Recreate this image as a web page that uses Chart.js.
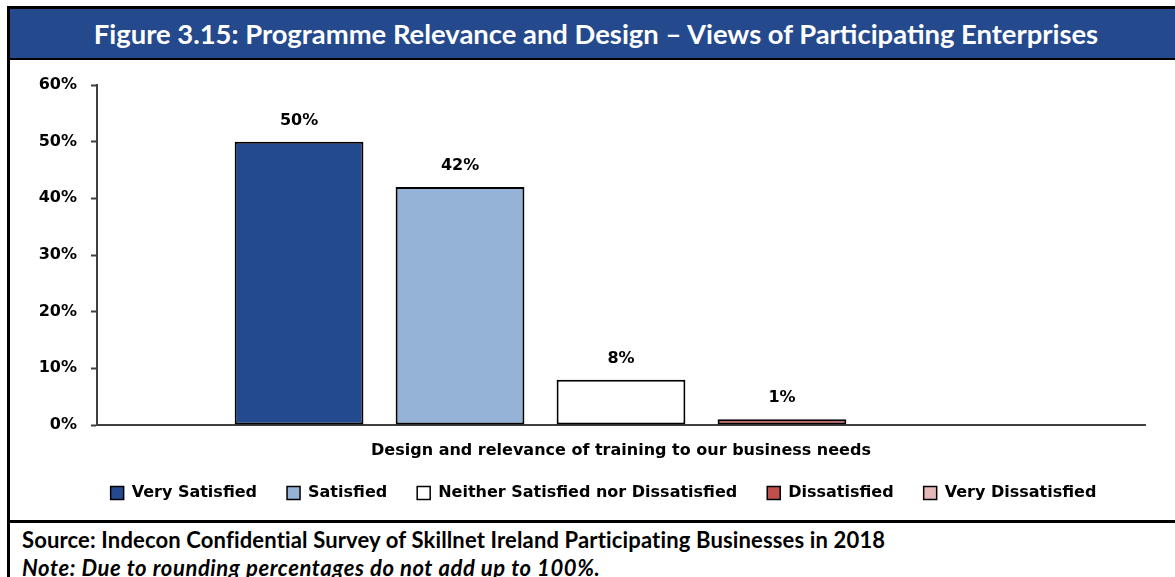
<!DOCTYPE html>
<html>
<head>
<meta charset="utf-8">
<script src="https://cdn.jsdelivr.net/npm/chart.js@4.4.1/dist/chart.umd.min.js"></script>
<style>
  html, body { margin: 0; padding: 0; background: #fff; }
  body { width: 1175px; height: 577px; position: relative; overflow: hidden; }
  .frame { position: absolute; left: 7px; top: 6px; width: 1168px; height: 571px;
           border-left: 3px solid #000; border-top: 3px solid #000; box-sizing: border-box; }
  .title { position: absolute; left: 10px; top: 9px; width: 1165px; height: 51px;
           background: #244a8d; border-bottom: 2px solid #000; box-sizing: border-box;
           color: #fff; font-family: Lato, "Open Sans", sans-serif; font-weight: 700;
           font-size: 27.4px; line-height: 50px; text-align: center; padding-left: 7px; }
  .chartbox { position: absolute; left: 10px; top: 61px; width: 1165px; height: 459px; }
  .rule { position: absolute; left: 7px; top: 520px; width: 1168px; height: 3px; background: #000; }
  .source { position: absolute; left: 22px; top: 526px; font-family: Lato, "Open Sans", sans-serif;
            font-weight: 700; font-size: 22px; letter-spacing: 0.15px; color: #000; white-space: nowrap; }
  .note { position: absolute; left: 22px; top: 554px; font-family: Lato, "Open Sans", sans-serif;
          font-weight: 700; font-style: italic; font-size: 22px; letter-spacing: 0.6px; color: #000; white-space: nowrap; }
</style>
</head>
<body>
<div class="frame"></div>
<div class="title">Figure 3.15: Programme Relevance and Design – Views of Participating Enterprises</div>
<div class="chartbox"><canvas id="c" width="1165" height="459"></canvas></div>
<div class="rule"></div>
<div class="source">Source: Indecon Confidential Survey of Skillnet Ireland Participating Businesses in 2018</div>
<div class="note">Note: Due to rounding percentages do not add up to 100%.</div>
<script>
const categories = ["Design and relevance of training to our business needs"];
const seriesNames = ["Very Satisfied", "Satisfied", "Neither Satisfied nor Dissatisfied", "Dissatisfied", "Very Dissatisfied"];
const seriesValues = [50, 42, 8, 1, 0];
const seriesColors = ["#234a8f", "#95b3d7", "#ffffff", "#c0504d", "#e6b9b8"];
const yTicks = [0, 10, 20, 30, 40, 50, 60];

const FONT = "'DejaVu Sans', Verdana, sans-serif";

// Percentage labels above every non-zero bar
const barLabels = {
  id: 'barLabels',
  afterDatasetsDraw(chart) {
    const ctx = chart.ctx;
    ctx.save();
    ctx.font = "bold 16px " + FONT;
    ctx.fillStyle = "#000";
    ctx.textAlign = "center";
    ctx.textBaseline = "middle";
    chart.data.datasets.forEach((ds, i) => {
      const meta = chart.getDatasetMeta(i);
      meta.data.forEach((bar, j) => {
        const v = ds.data[j];
        if (!v) return;
        ctx.fillText(v + "%", bar.x, bar.y - 21);
      });
    });
    ctx.restore();
  }
};

// Nudge the legend row so it sits centred under the plot, a little higher
const legendShift = {
  id: 'legendShift',
  afterLayout(chart) {
    const lg = chart.legend;
    if (lg) { lg.left += 26; lg.right += 26; lg.top -= 5; lg.bottom -= 5; }
  }
};

new Chart(document.getElementById('c'), {
  type: 'bar',
  data: {
    labels: categories,
    datasets: seriesNames.map((name, i) => ({
      label: name,
      data: [seriesValues[i]],
      backgroundColor: seriesColors[i],
      borderColor: "#000",
      borderWidth: 2,
      borderSkipped: false
    }))
  },
  options: {
    responsive: false,
    animation: false,
    devicePixelRatio: 1,
    categoryPercentage: 0.768,
    barPercentage: 0.80,
    layout: { padding: { left: 0, right: 30, top: 24, bottom: 4 } },
    scales: {
      x: {
        grid: { display: false, drawTicks: false },
        border: { display: true, color: "#404040", width: 2 },
        ticks: { color: "#000", font: { family: FONT, weight: 'bold', size: 16 }, padding: 16 },
        afterFit(scale) { scale.height = 35; }
      },
      y: {
        min: 0, max: 60,
        afterBuildTicks(scale) { scale.ticks = yTicks.map(v => ({ value: v })); },
        grid: { display: true, drawOnChartArea: false, drawTicks: true, tickLength: 6, tickColor: "#404040", tickWidth: 2 },
        border: { display: true, color: "#404040", width: 2 },
        ticks: { color: "#000", font: { family: FONT, weight: 'bold', size: 16 }, padding: 14,
                 callback: v => v + "%" },
        afterFit(scale) { scale.width = 87; }
      }
    },
    plugins: {
      legend: {
        position: 'bottom',
        labels: {
          color: "#000",
          font: { family: FONT, weight: 'bold', size: 16 },
          boxWidth: 13, boxHeight: 13, padding: 30,
          generateLabels(chart) {
            return chart.data.datasets.map((ds, i) => ({
              text: ds.label, fillStyle: ds.backgroundColor, strokeStyle: "#000",
              lineWidth: 1.5, hidden: false, datasetIndex: i
            }));
          }
        }
      },
      tooltip: { enabled: false }
    }
  },
  plugins: [barLabels, legendShift]
});
</script>
</body>
</html>
